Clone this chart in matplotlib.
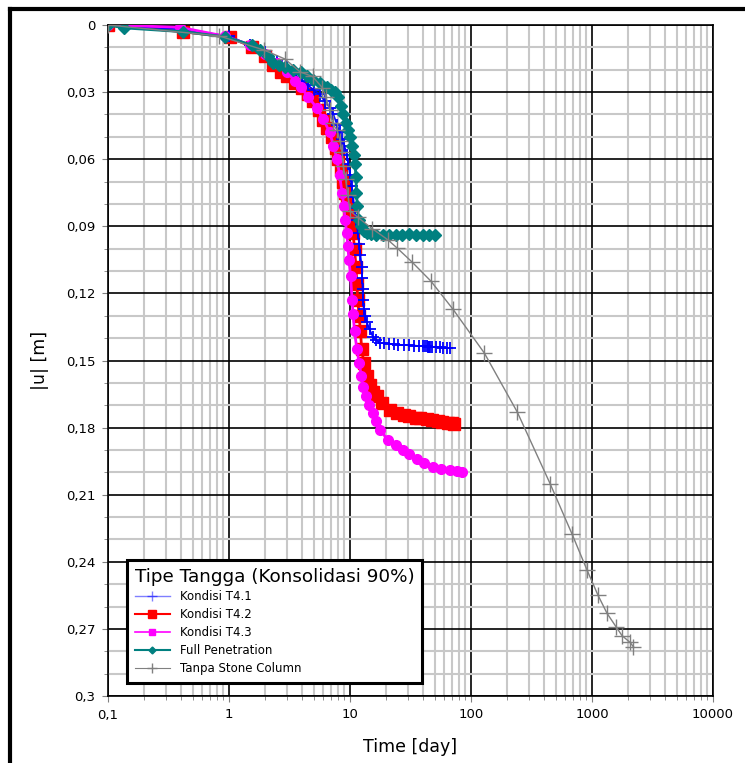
import numpy as np
import matplotlib
matplotlib.use("Agg")
import matplotlib.pyplot as plt
from matplotlib.lines import Line2D
from matplotlib.ticker import FixedLocator, LogLocator, NullFormatter

# ── Data ─────────────────────────────────────────────────────────
t_41 = [0.1, 0.42, 1.0, 1.5, 2.0, 2.5, 3.0, 3.5, 4.0, 4.5, 5.0, 5.6, 6.2, 6.8,
        7.3, 7.8, 8.2, 8.6, 9.0, 9.4, 9.7, 10.0, 10.3, 10.6, 10.9, 11.2, 11.6,
        11.9, 12.2, 12.5, 12.6, 12.7, 12.8, 13.0, 13.3, 13.8, 14.5, 15.5, 16.5,
        17.7, 19.0, 21.0, 23.0, 25.0, 28.0, 31.0, 34.0, 37.0, 40.0, 42.0, 43.0,
        44.0, 45.0, 46.0, 48.0, 51.0, 55.0, 59.0, 63.0, 67.0]
u_41 = [0.0, 0.002, 0.005, 0.009, 0.012, 0.016, 0.019, 0.022, 0.025, 0.027,
        0.029, 0.031, 0.034, 0.037, 0.040, 0.0445, 0.048, 0.051, 0.054, 0.058,
        0.062, 0.067, 0.072, 0.077, 0.082, 0.087, 0.093, 0.098, 0.103, 0.108,
        0.113, 0.118, 0.123, 0.127, 0.130, 0.133, 0.136, 0.1395, 0.141, 0.142,
        0.1422, 0.1425, 0.1427, 0.143, 0.143, 0.1432, 0.1433, 0.1435, 0.1436,
        0.1437, 0.1437, 0.1438, 0.1438, 0.1439, 0.144, 0.144, 0.1441, 0.1442,
        0.1443, 0.1444]

t_42 = [0.1, 0.42, 1.02, 1.55, 2.0, 2.3, 2.7, 3.0, 3.5, 4.0, 4.5, 4.9, 5.5, 6.0,
        6.5, 7.1, 7.6, 8.0, 8.4, 8.8, 9.1, 9.5, 9.9, 10.3, 10.6, 10.9, 11.2,
        11.4, 11.6, 11.9, 12.2, 12.5, 13.0, 13.8, 14.6, 15.5, 16.7, 18.5, 21.3,
        24.5, 28.0, 31.0, 35.0, 38.0, 43.0, 48.0, 53.0, 58.0, 64.0, 69.0, 73.0]
u_42 = [0.0, 0.003, 0.0055, 0.0098, 0.014, 0.018, 0.021, 0.023, 0.026, 0.028,
        0.031, 0.034, 0.038, 0.0425, 0.046, 0.050, 0.055, 0.060, 0.065, 0.070,
        0.075, 0.080, 0.085, 0.089, 0.093, 0.100, 0.108, 0.116, 0.123, 0.130,
        0.137, 0.145, 0.151, 0.157, 0.161, 0.164, 0.166, 0.169, 0.172, 0.1735,
        0.1745, 0.175, 0.1755, 0.1757, 0.1763, 0.1767, 0.177, 0.1774, 0.1778,
        0.178, 0.1782]

t_43 = [0.1, 0.39, 0.93, 1.5, 2.0, 2.5, 3.0, 3.5, 3.9, 4.5, 5.3, 6.0, 6.8, 7.3,
        7.8, 8.2, 8.6, 8.9, 9.1, 9.4, 9.6, 9.8, 10.1, 10.4, 10.6, 10.9, 11.4,
        11.9, 12.4, 12.8, 13.5, 14.4, 15.5, 16.5, 17.7, 20.5, 24.0, 27.4, 31.0,
        35.5, 41.0, 48.5, 57.0, 67.0, 76.0, 84.0]
u_43 = [0.0, 0.001, 0.005, 0.009, 0.013, 0.017, 0.021, 0.025, 0.0277, 0.032,
        0.037, 0.042, 0.048, 0.054, 0.060, 0.067, 0.075, 0.081, 0.087, 0.093,
        0.099, 0.105, 0.112, 0.123, 0.129, 0.137, 0.145, 0.151, 0.157, 0.162,
        0.166, 0.170, 0.1735, 0.177, 0.181, 0.1855, 0.188, 0.190, 0.192, 0.194,
        0.196, 0.1975, 0.1985, 0.199, 0.1995, 0.200]

t_full = [0.1, 0.136, 0.42, 0.93, 1.55, 1.8, 2.1, 2.3, 2.6, 2.9, 3.4, 3.9, 4.4,
          4.9, 5.6, 6.4, 7.0, 7.5, 8.0, 8.4, 8.8, 9.2, 9.6, 10.0, 10.4, 10.8,
          11.0, 11.2, 11.3, 11.5, 11.8, 12.3, 13.0, 13.8, 15.0, 16.5, 18.7,
          21.0, 24.0, 27.0, 31.0, 35.0, 40.0, 45.0, 50.5]
u_full = [0.0, 0.0013, 0.003, 0.0053, 0.009, 0.011, 0.014, 0.017, 0.018, 0.019,
          0.020, 0.021, 0.023, 0.0246, 0.026, 0.0277, 0.029, 0.030, 0.032,
          0.036, 0.040, 0.044, 0.047, 0.050, 0.054, 0.058, 0.062, 0.068, 0.075,
          0.081, 0.087, 0.090, 0.092, 0.093, 0.0935, 0.0937, 0.094, 0.0938,
          0.0938, 0.0937, 0.0936, 0.0937, 0.0937, 0.0938, 0.0938]

t_tanpa = [0.1, 0.83, 1.95, 2.9, 3.87, 4.9, 5.9, 6.3, 6.8, 7.2, 7.8, 8.3, 8.6,
           8.8, 9.2, 9.6, 10.0, 11.6, 15.2, 20.5, 24.5, 32.6, 46.6, 70.8, 129,
           241, 450, 684, 910, 1122, 1330, 1578, 1770, 2060, 2200]
u_tanpa = [0.0, 0.0049, 0.0112, 0.0152, 0.021, 0.023, 0.028, 0.032, 0.038,
           0.044, 0.047, 0.052, 0.057, 0.063, 0.069, 0.076, 0.083, 0.086,
           0.091, 0.096, 0.0997, 0.106, 0.1145, 0.127, 0.1467, 0.173, 0.205,
           0.2276, 0.2437, 0.255, 0.263, 0.269, 0.273, 0.276, 0.278]

y_ticks = [0, 0.03, 0.06, 0.09, 0.12, 0.15, 0.18, 0.21, 0.24, 0.27, 0.3]
y_labels = ["0", "0,03", "0,06", "0,09", "0,12", "0,15", "0,18", "0,21",
            "0,24", "0,27", "0,3"]
x_ticks = [0.1, 1, 10, 100, 1000, 10000]
x_labels = ["0,1", "1", "10", "100", "1000", "10000"]

# ── Plot ─────────────────────────────────────────────────────────
fig = plt.figure(figsize=(7.45, 7.63), dpi=100)
ax = fig.add_axes([108 / 745, 1 - 696 / 763, 605 / 745, 671 / 763])

ax.plot(t_42, u_42, color="red", lw=2, marker="s", ms=8,
        label="Kondisi T4.2", zorder=3)
ax.plot(t_41, u_41, color="blue", lw=1.2, marker="+", ms=9, mew=1.3,
        label="Kondisi T4.1", zorder=4)
ax.plot(t_43, u_43, color="magenta", lw=2, marker="o", ms=7,
        label="Kondisi T4.3", zorder=4)
ax.plot(t_full, u_full, color="teal", lw=2, marker="D", ms=6,
        label="Full Penetration", zorder=5)
ax.plot(t_tanpa, u_tanpa, color="grey", lw=1.0, marker="+", ms=11, mew=1.0,
        label="Tanpa Stone Column", zorder=6)

ax.set_xscale("log")
ax.set_xlim(0.1, 10000)
ax.set_ylim(0.3, 0)

ax.set_xticks(x_ticks)
ax.set_xticklabels(x_labels)
ax.xaxis.set_minor_locator(LogLocator(base=10, subs=np.arange(2, 10)))
ax.xaxis.set_minor_formatter(NullFormatter())
ax.set_yticks(y_ticks)
ax.set_yticklabels(y_labels)
ax.yaxis.set_minor_locator(FixedLocator(np.arange(0, 0.301, 0.01)))

ax.grid(which="minor", color="#c8c8c8", lw=1.5, zorder=0)
ax.grid(which="major", color="black", lw=1.2, zorder=1)
ax.set_axisbelow(True)
ax.tick_params(which="both", direction="out", colors="#808080",
               labelcolor="black", labelsize=9.5, length=4, pad=5)
ax.tick_params(which="minor", length=3)
for s in ax.spines.values():
    s.set_linewidth(1.2)

ax.set_xlabel("Time [day]", fontsize=12.5, labelpad=12)
ax.set_ylabel("|u| [m]", fontsize=12.5, labelpad=12)

order = ["Kondisi T4.1", "Kondisi T4.2", "Kondisi T4.3", "Full Penetration",
         "Tanpa Stone Column"]
leg_handles = [
    Line2D([], [], color="blue", lw=1, marker="+", ms=7, alpha=0.5),
    Line2D([], [], color="red", lw=1.5, marker="s", ms=6),
    Line2D([], [], color="magenta", lw=1.2, marker="s", ms=4),
    Line2D([], [], color="teal", lw=1.5, marker="D", ms=3.5),
    Line2D([], [], color="grey", lw=0.8, marker="+", ms=7),
]
leg = ax.legend(leg_handles, order, title="Tipe Tangga (Konsolidasi 90%)",
                loc="lower left", bbox_to_anchor=(19 / 605, 13 / 671),
                borderaxespad=0, fontsize=8.5, title_fontsize=13.2,
                fancybox=False, framealpha=1, edgecolor="black",
                borderpad=0.65, labelspacing=0.42, handlelength=3.0,
                handletextpad=0.8)
leg._legend_box.align = "left"
leg.get_frame().set_linewidth(2.2)
leg.set_zorder(10)

# figure border lines (top and left)
fig.add_artist(Line2D([10 / 745, 1], [1 - 9 / 763, 1 - 9 / 763],
                      color="black", lw=3, transform=fig.transFigure))
fig.add_artist(Line2D([10 / 745, 10 / 745], [0, 1 - 9 / 763],
                      color="black", lw=3, transform=fig.transFigure))

fig.savefig("out.png", dpi=100)
